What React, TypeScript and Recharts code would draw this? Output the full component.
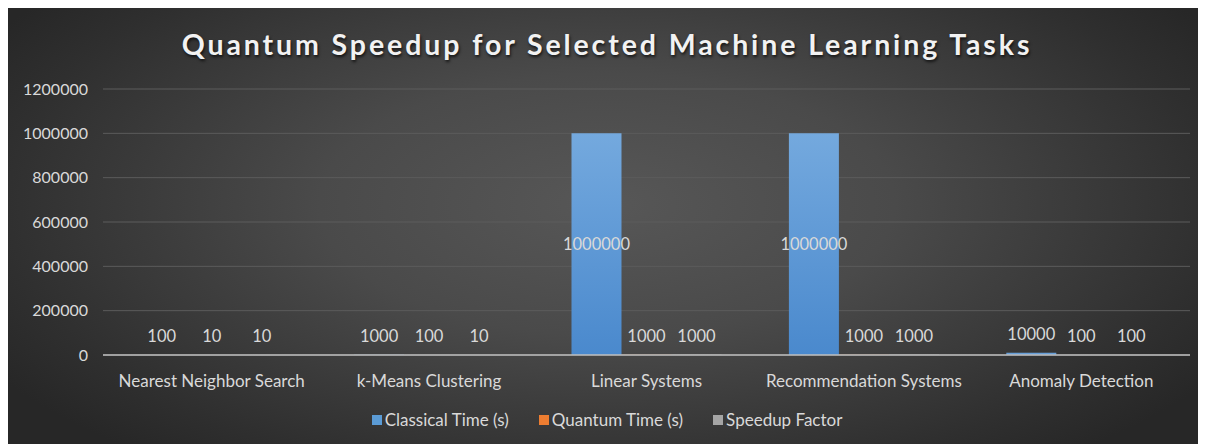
import { BarChart, Bar, XAxis, YAxis, CartesianGrid, Legend, LabelList } from 'recharts';

const tasks = [
  'Nearest Neighbor Search',
  'k-Means Clustering',
  'Linear Systems',
  'Recommendation Systems',
  'Anomaly Detection',
];
const classicalTime = [100, 1000, 1000000, 1000000, 10000];
const quantumTime = [10, 100, 1000, 1000, 100];
const speedupFactor = [10, 10, 1000, 1000, 100];
const yTicks = [0, 200000, 400000, 600000, 800000, 1000000, 1200000];

const data = tasks.map((task, i) => ({
  task,
  classical: classicalTime[i],
  quantum: quantumTime[i],
  speedup: speedupFactor[i],
}));

const TEXT = '#d9d9d9';
const FONT = 'Lato, "Open Sans", sans-serif';

// Excel puts tall-bar labels in the middle, short ones just above the axis
function BarLabel(props: any) {
  const { x, y, width, height, value } = props;
  const tall = height > 30;
  return (
    <text
      x={x + width / 2}
      y={tall ? y + height / 2 : y - 19}
      fill={TEXT}
      fontSize={16.5}
      fontFamily={FONT}
      textAnchor="middle"
      dominantBaseline="central"
    >
      {value}
    </text>
  );
}

const legendItems = [
  { name: 'Classical Time (s)', color: '#5b9bd5' },
  { name: 'Quantum Time (s)', color: '#ed7d31' },
  { name: 'Speedup Factor', color: '#a5a5a5' },
];

function LegendContent() {
  return (
    <div style={{ display: 'flex', justifyContent: 'center', gap: 30, fontFamily: FONT, fontSize: 17, color: TEXT }}>
      {legendItems.map((it) => (
        <span key={it.name} style={{ display: 'flex', alignItems: 'center' }}>
          <span style={{ width: 10, height: 10, background: it.color, marginRight: 3, display: 'inline-block' }} />
          {it.name}
        </span>
      ))}
    </div>
  );
}

export default function App() {
  return (
    <div
      style={{
        position: 'relative',
        width: 1198,
        height: 436,
        background: 'radial-gradient(ellipse 60% 75% at 50% 45%, #575757 0%, #4a4a4a 40%, #2f2f2f 85%, #272727 100%)',
      }}
    >
      <div
        style={{
          position: 'absolute',
          top: 19,
          left: 0,
          width: '100%',
          textAlign: 'center',
          fontFamily: FONT,
          fontWeight: 700,
          fontSize: 28.5,
          letterSpacing: 2.9,
          color: '#f2f2f2',
          textShadow: '1px 2px 3px rgba(0,0,0,0.7)',
        }}
      >
        Quantum Speedup for Selected Machine Learning Tasks
      </div>
      <BarChart
        width={1198}
        height={436}
        data={data}
        margin={{ top: 81, right: 16, left: 0, bottom: 59 }}
        barCategoryGap="15.5%"
        barGap={0}
        style={{ position: 'absolute', top: 0, left: 0 }}
      >
        <defs>
          <linearGradient id="gBlue" x1="0" y1="0" x2="0" y2="1">
            <stop offset="0%" stopColor="#74a9de" />
            <stop offset="100%" stopColor="#4a89cd" />
          </linearGradient>
          <linearGradient id="gOrange" x1="0" y1="0" x2="0" y2="1">
            <stop offset="0%" stopColor="#f28c48" />
            <stop offset="100%" stopColor="#da6a22" />
          </linearGradient>
          <linearGradient id="gGrey" x1="0" y1="0" x2="0" y2="1">
            <stop offset="0%" stopColor="#b8b8b8" />
            <stop offset="100%" stopColor="#939393" />
          </linearGradient>
        </defs>
        <CartesianGrid vertical={false} stroke="#5c5c5c" strokeWidth={1} />
        <XAxis
          dataKey="task"
          axisLine={{ stroke: '#bfbfbf', strokeWidth: 1.5 }}
          tickLine={false}
          tick={{ fill: TEXT, fontSize: 17, fontFamily: FONT }}
          tickMargin={14}
          interval={0}
          height={30}
        />
        <YAxis
          domain={[0, 1200000]}
          ticks={yTicks}
          axisLine={false}
          tickLine={false}
          tickSize={0}
          tickMargin={15}
          width={95}
          tick={{ fill: TEXT, fontSize: 16, fontFamily: FONT }}
        />
        <Legend
          verticalAlign="middle"
          align="center"
          layout="horizontal"
          content={LegendContent}
          wrapperStyle={{ top: 401, left: 0, width: 1198 }}
        />
        <Bar dataKey="classical" name="Classical Time (s)" fill="url(#gBlue)" isAnimationActive={false}>
          <LabelList dataKey="classical" content={BarLabel} />
        </Bar>
        <Bar dataKey="quantum" name="Quantum Time (s)" fill="url(#gOrange)" isAnimationActive={false}>
          <LabelList dataKey="quantum" content={BarLabel} />
        </Bar>
        <Bar dataKey="speedup" name="Speedup Factor" fill="url(#gGrey)" isAnimationActive={false}>
          <LabelList dataKey="speedup" content={BarLabel} />
        </Bar>
      </BarChart>
    </div>
  );
}
